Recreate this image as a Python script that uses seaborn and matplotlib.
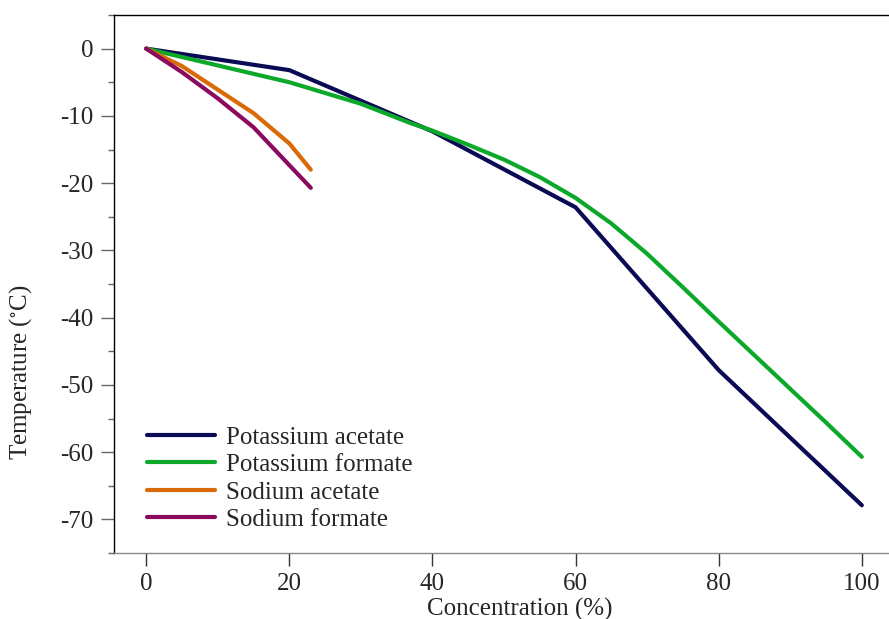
import numpy as np
import pandas as pd
import matplotlib
matplotlib.use("Agg")
import matplotlib.pyplot as plt
import seaborn as sns
from matplotlib.ticker import MultipleLocator

# ---- data ----
pa_x = [0, 20, 40, 60, 80, 100]
pa_y = [0, -3.2, -12.3, -23.6, -47.8, -67.9]

pf_x = [0, 10, 20, 30, 37, 40, 45, 50, 55, 60, 65, 70, 75, 80, 85, 90, 95, 100]
pf_y = [0, -2.5, -5.0, -8.2, -11.1, -12.2, -14.3, -16.5, -19.1, -22.2, -26.0, -30.5, -35.5, -40.6, -45.6, -50.6, -55.6, -60.7]

sa_x = [0, 5, 10, 15, 20, 23]
sa_y = [0, -2.6, -6.1, -9.6, -14.1, -18.0]

sf_x = [0, 5, 10, 15, 23]
sf_y = [0, -3.5, -7.4, -11.7, -20.7]

names = ["Potassium acetate", "Potassium formate", "Sodium acetate", "Sodium formate"]
colors = ["#0b0b55", "#0ca82a", "#d96a05", "#8a0a5e"]

frames = []
for n, xs, ys in zip(names, [pa_x, pf_x, sa_x, sf_x], [pa_y, pf_y, sa_y, sf_y]):
    frames.append(pd.DataFrame({"Concentration": xs, "Temperature": ys, "Salt": n}))
df = pd.concat(frames, ignore_index=True)

sns.set_style("white")
plt.rcParams["font.family"] = ["Liberation Serif", "DejaVu Serif"]
plt.rcParams["mathtext.fontset"] = "stix"

fig = plt.figure(figsize=(8.89, 6.19), dpi=100)
ax = fig.add_axes([114 / 889, 66 / 619, 1 - 114 / 889, 538 / 619])

sns.lineplot(data=df, x="Concentration", y="Temperature", hue="Salt",
             hue_order=names, palette=colors, linewidth=3, ax=ax, sort=False,
             estimator=None)

ax.set_xlim(-4.5, 103.8)
ax.set_ylim(-75, 5)
ax.xaxis.set_major_locator(MultipleLocator(20))
ax.yaxis.set_minor_locator(MultipleLocator(5))
ax.set_yticks([0, -10, -20, -30, -40, -50, -60, -70])
ax.set_yticklabels(["0", "-10", "-20", "-30", "-40", "-50", "-60", "-70"])

ax.spines["right"].set_visible(False)
for s in ["left", "top"]:
    ax.spines[s].set_color("black")
    ax.spines[s].set_linewidth(1.0)
ax.spines["bottom"].set_color("#888888")
ax.spines["bottom"].set_linewidth(1.0)

FS = 18
ax.tick_params(axis="y", which="major", direction="out", length=9.4, width=1,
               color="#666666", labelsize=FS, pad=5.5, left=True)
ax.tick_params(axis="y", which="minor", direction="out", length=4.5, width=1,
               color="#666666", left=True)
ax.tick_params(axis="x", which="major", direction="out", length=9.4, width=1,
               color="#333333", labelsize=FS, pad=5, bottom=True)

ax.set_xlabel("Concentration (%)", fontsize=FS)
ax.set_ylabel("Temperature ($^{\\circ}$C)", fontsize=FS)
ax.xaxis.set_label_coords(0.524, -0.083)
ax.yaxis.set_label_coords(-0.103, 0.336)

leg = ax.legend(loc="lower left", bbox_to_anchor=(0.03, 0.022), frameon=False,
                fontsize=FS, handlelength=2.7, handletextpad=0.45,
                labelspacing=0.2, borderaxespad=0)
for h in leg.get_lines():
    h.set_linewidth(3)

fig.savefig("out.png", dpi=100)
